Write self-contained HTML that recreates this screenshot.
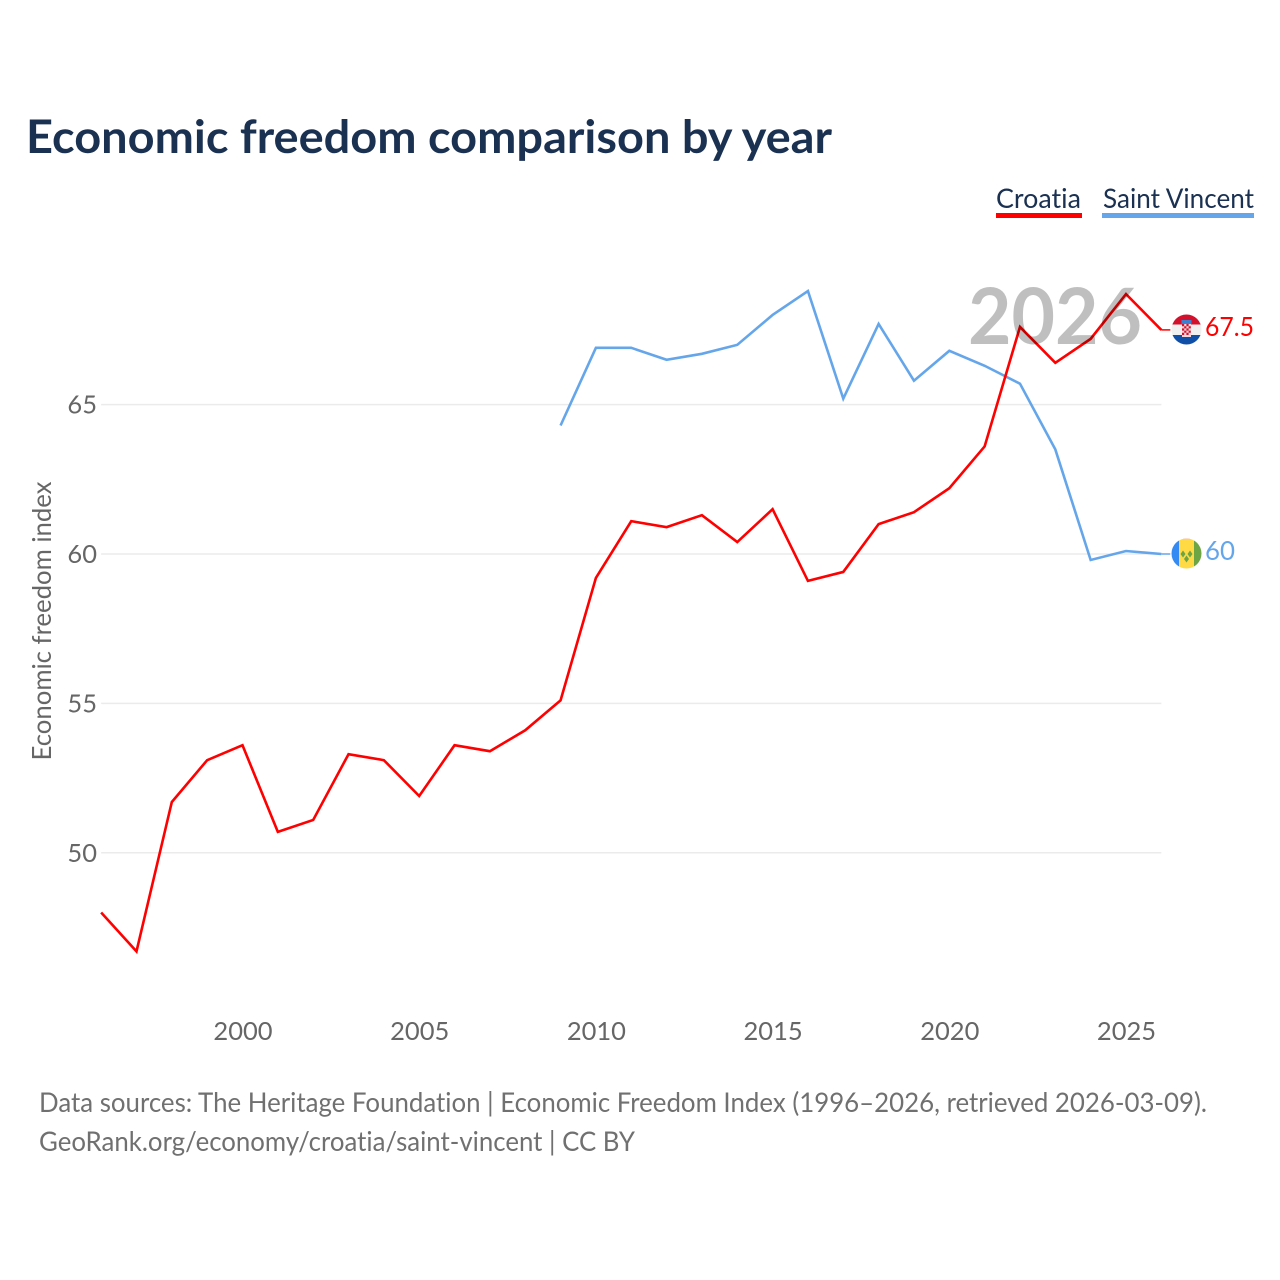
<!DOCTYPE html>
<html lang="en">
<head>
<meta charset="utf-8">
<title>Economic freedom comparison by year</title>
<style>
html,body{margin:0;padding:0;background:#fff;width:1280px;height:1280px;overflow:hidden}
svg{display:block;font-family:Lato,Carlito,"Liberation Sans",sans-serif;font-variant-ligatures:none}
</style>
</head>
<body>
<svg id="chart" xmlns="http://www.w3.org/2000/svg" width="1280" height="1280" viewBox="0 0 1280 1280">
  <rect x="0" y="0" width="1280" height="1280" fill="#fff"/>
  <text x="26" y="153" font-size="46" font-weight="700" fill="#1a3152" textLength="806" lengthAdjust="spacingAndGlyphs">Economic freedom comparison by year</text>
  <g>
    <text x="996" y="208" font-size="27" fill="#1a3152" textLength="85" lengthAdjust="spacingAndGlyphs">Croatia</text>
    <rect x="996" y="213" width="86" height="5" fill="#ff0000"/>
  </g>
  <g>
    <text x="1103" y="208" font-size="27" fill="#1a3152" textLength="151" lengthAdjust="spacingAndGlyphs">Saint Vincent</text>
    <rect x="1102" y="213" width="152" height="5" fill="#65a6ea"/>
  </g>
  <g id="grid"></g>
  <g id="yticks"></g>
  <g id="xticks"></g>
  <text transform="translate(51,621) rotate(-90)" text-anchor="middle" font-size="26" fill="#666" textLength="279" lengthAdjust="spacingAndGlyphs">Economic freedom index</text>
  <g id="series"></g>
  <text x="968" y="344" font-size="78" font-weight="700" fill="#000" fill-opacity="0.25" textLength="174" lengthAdjust="spacingAndGlyphs">2026</text>
  <g>
    <clipPath id="clipHr"><circle cx="1186.5" cy="329.5" r="15"/></clipPath>
    <g clip-path="url(#clipHr)">
      <rect x="1171" y="314" width="31" height="10.5" fill="#d3112c"/>
      <rect x="1171" y="324.5" width="31" height="10.5" fill="#f0f0f0"/>
      <rect x="1171" y="335" width="31" height="11" fill="#0f4fa8"/>
      <rect x="1181.5" y="320" width="10" height="4" fill="#3f7fd0"/>
      <rect x="1182" y="324" width="9" height="13" fill="#f3d7da"/>
      <path d="M1182 324h2.2v2.2h-2.2zM1186.4 324h2.2v2.2h-2.2zM1184.2 326.2h2.2v2.2h-2.2zM1188.6 326.2h2.2v2.2h-2.2zM1182 328.4h2.2v2.2h-2.2zM1186.4 328.4h2.2v2.2h-2.2zM1184.2 330.6h2.2v2.2h-2.2zM1188.6 330.6h2.2v2.2h-2.2zM1182 332.8h2.2v2.2h-2.2zM1186.4 332.8h2.2v2.2h-2.2z" fill="#d3112c"/>
    </g>
  </g>
  <g>
    <clipPath id="clipVc"><circle cx="1186.5" cy="553.5" r="15"/></clipPath>
    <g clip-path="url(#clipVc)">
      <rect x="1171" y="538" width="8" height="31" fill="#338af3"/>
      <rect x="1179" y="538" width="15" height="31" fill="#ffda44"/>
      <rect x="1194" y="538" width="8" height="31" fill="#6da544"/>
      <rect x="1179" y="538" width="15" height="1.2" fill="#f3b9a8"/>
      <path d="M1183 550.5l2.5 3.5-2.5 3.5-2.5-3.5zM1190 550.5l2.5 3.5-2.5 3.5-2.5-3.5zM1186.5 555.5l2.5 3.5-2.5 3.5-2.5-3.5z" fill="#6da544"/>
    </g>
  </g>
  <text x="1205" y="336" font-size="26" fill="#ff0000" textLength="49" lengthAdjust="spacingAndGlyphs">67.5</text>
  <text x="1205" y="560" font-size="26" fill="#65a6ea" textLength="30" lengthAdjust="spacingAndGlyphs">60</text>
  <text x="39" y="1112" font-size="27" fill="#707070" textLength="1168" lengthAdjust="spacingAndGlyphs">Data sources: The Heritage Foundation | Economic Freedom Index (1996–2026, retrieved 2026-03-09).</text>
  <text x="39" y="1151" font-size="27" fill="#707070" textLength="596" lengthAdjust="spacingAndGlyphs">GeoRank.org/economy/croatia/saint-vincent | CC BY</text>
</svg>
<script>
const years = [1996,1997,1998,1999,2000,2001,2002,2003,2004,2005,2006,2007,2008,2009,2010,2011,2012,2013,2014,2015,2016,2017,2018,2019,2020,2021,2022,2023,2024,2025,2026];
const croatia = [48.0,46.7,51.7,53.1,53.6,50.7,51.1,53.3,53.1,51.9,53.6,53.4,54.1,55.1,59.2,61.1,60.9,61.3,60.4,61.5,59.1,59.4,61.0,61.4,62.2,63.6,67.6,66.4,67.2,68.7,67.5];
const saintVincent = [null,null,null,null,null,null,null,null,null,null,null,null,null,64.3,66.9,66.9,66.5,66.7,67.0,68.0,68.8,65.2,67.7,65.8,66.8,66.3,65.7,63.5,59.8,60.1,60.0];
const yTickValues = [50,55,60,65];
const xTickValues = [2000,2005,2010,2015,2020,2025];

const NS = 'http://www.w3.org/2000/svg';
function xScale(year){ return 242.5 + (year - 2000) * 35.34; }
function yScale(v){ return 554 - (v - 60) * 29.88; }

const grid = document.getElementById('grid');
const yticks = document.getElementById('yticks');
const xticks = document.getElementById('xticks');
const series = document.getElementById('series');

yTickValues.forEach(function(v){
  const line = document.createElementNS(NS, 'line');
  
  
  line.setAttribute('x1', xScale(years[0]));
  line.setAttribute('x2', xScale(years[years.length - 1]));
  line.setAttribute('y1', yScale(v));
  line.setAttribute('y2', yScale(v));
  line.setAttribute('stroke', '#ebebeb');
  line.setAttribute('stroke-width', '1.5');
  grid.appendChild(line);

  const t = document.createElementNS(NS, 'text');
  
  
  t.setAttribute('x', 97);
  t.setAttribute('y', yScale(v) + 9);
  t.setAttribute('text-anchor', 'end');
  t.setAttribute('font-size', '25.5');
  t.setAttribute('fill', '#666');
  t.textContent = v;
  yticks.appendChild(t);
});

xTickValues.forEach(function(y){
  const t = document.createElementNS(NS, 'text');
  
  
  t.setAttribute('x', xScale(y) + 0.5);
  t.setAttribute('y', 1040);
  t.setAttribute('text-anchor', 'middle');
  t.setAttribute('font-size', '25.5');
  t.setAttribute('fill', '#666');
  t.textContent = y;
  xticks.appendChild(t);
});

function points(values){
  const out = [];
  values.forEach(function(v, i){
    if (v !== null) out.push(xScale(years[i]).toFixed(2) + ',' + yScale(v).toFixed(2));
  });
  return out.join(' ');
}

const vcLine = document.createElementNS(NS, 'polyline');


vcLine.setAttribute('points', points(saintVincent));
vcLine.setAttribute('fill', 'none');
vcLine.setAttribute('stroke', '#65a6ea');
vcLine.setAttribute('stroke-width', '2.6');
series.appendChild(vcLine);

const hrLine = document.createElementNS(NS, 'polyline');


hrLine.setAttribute('points', points(croatia));
hrLine.setAttribute('fill', 'none');
hrLine.setAttribute('stroke', '#ff0000');
hrLine.setAttribute('stroke-width', '2.6');
series.appendChild(hrLine);

const lastX = xScale(years[years.length - 1]);

const hrConn = document.createElementNS(NS, 'line');


hrConn.setAttribute('x1', lastX);
hrConn.setAttribute('x2', lastX + 9);
hrConn.setAttribute('y1', yScale(croatia[croatia.length - 1]));
hrConn.setAttribute('y2', yScale(croatia[croatia.length - 1]));
hrConn.setAttribute('stroke', '#ff0000');
hrConn.setAttribute('stroke-width', '1.5');
series.appendChild(hrConn);

const vcConn = document.createElementNS(NS, 'line');


vcConn.setAttribute('x1', lastX);
vcConn.setAttribute('x2', lastX + 9);
vcConn.setAttribute('y1', yScale(saintVincent[saintVincent.length - 1]));
vcConn.setAttribute('y2', yScale(saintVincent[saintVincent.length - 1]));
vcConn.setAttribute('stroke', '#65a6ea');
vcConn.setAttribute('stroke-width', '1.5');
series.appendChild(vcConn);
</script>
</body>
</html>
